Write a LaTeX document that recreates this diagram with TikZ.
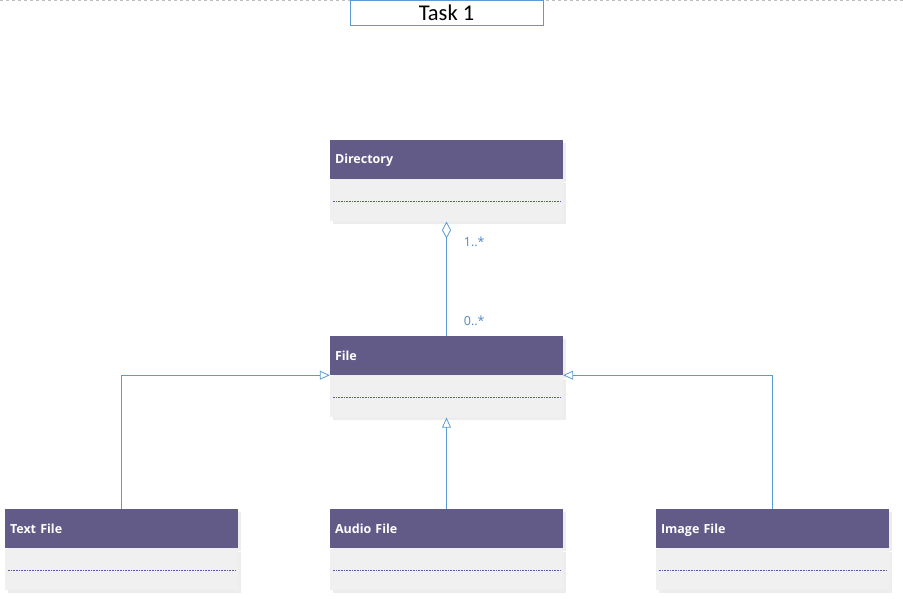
\documentclass[tikz,border=0pt]{standalone}
\usepackage{fontspec}
\setmainfont{Open Sans}
\newfontfamily\taskfont{Carlito}
\usepackage{tikz}
\usetikzlibrary{positioning, arrows.meta, shadows}
\definecolor{headpurple}{HTML}{625A87}
\definecolor{bodygray}{HTML}{F0F0F0}
\definecolor{linkblue}{HTML}{5B9BD5}
\definecolor{multblue}{HTML}{4F86C6}
\definecolor{dotpurple}{HTML}{5A5AA0}
\tikzset{
  x=1pt, y=-1pt, % one unit is one pixel of the picture, y runs down
  classhead/.style={fill=headpurple, text=white, font=\bfseries\fontsize{12.5}{14}\selectfont,
    text width=223pt, align=left, inner sep=5pt, text height=12pt, text depth=3pt, minimum height=39pt,
    drop shadow={shadow xshift=3pt, shadow yshift=-3pt, fill=black!7, opacity=1}}, % class name bar
  classbody/.style={fill=bodygray, minimum width=233pt, minimum height=41pt, inner sep=0pt,
    drop shadow={shadow xshift=3pt, shadow yshift=-3pt, fill=black!7, opacity=1}}, % empty compartments
  sep/.style={dotpurple, densely dotted, line width=0.6pt}, % line between compartments
  link/.style={linkblue, line width=0.8pt}, % connectors
  inherit/.style={link, -{Triangle[open, length=10pt, width=9pt]}},
  aggreg/.style={link, {Diamond[open, length=17pt, width=9pt]}-},
  mult/.style={text=multblue, font=\fontsize{12.5}{14}\selectfont, inner sep=0pt},
}
\begin{document}
\begin{tikzpicture}
  \useasboundingbox (0,0) rectangle (903,599);
  \draw[black!25, dashed, line width=0.6pt] (0,0.5) -- (903,0.5);
  \node[draw=linkblue, line width=0.8pt, minimum width=193pt, minimum height=25pt, inner sep=0pt,
        font=\taskfont\fontsize{22.5}{24}\selectfont] (task) at (446.5,12.5) {Task 1};

  % classes
  \node[classhead]                            (dirhead)  at (446.5,159.5) {Directory};
  \node[classbody, below=1pt of dirhead]      (dirbody)  {};
  \node[classhead]                            (filehead) at (446.5,355.5) {File};
  \node[classbody, below=1pt of filehead]     (filebody) {};
  \node[classhead]                            (txthead)  at (121.5,528.5) {Text File};
  \node[classbody, below=1pt of txthead]      (txtbody)  {};
  \node[classhead]                            (audhead)  at (446.5,528.5) {Audio File};
  \node[classbody, below=1pt of audhead]      (audbody)  {};
  \node[classhead]                            (imghead)  at (772.5,528.5) {Image File};
  \node[classbody, below=1pt of imghead]      (imgbody)  {};

  \draw[sep] ([xshift=3pt]dirbody.west)  -- ([xshift=-3pt]dirbody.east);
  \draw[sep] ([xshift=3pt]filebody.west) -- ([xshift=-3pt]filebody.east);
  \draw[sep] ([xshift=3pt]txtbody.west)  -- ([xshift=-3pt]txtbody.east);
  \draw[sep] ([xshift=3pt]audbody.west)  -- ([xshift=-3pt]audbody.east);
  \draw[sep] ([xshift=3pt]imgbody.west)  -- ([xshift=-3pt]imgbody.east);

  % connectors
  \draw[aggreg] (dirbody.south) -- (filehead.north)
    node[mult, pos=0.18, right=17pt] {1..*}
    node[mult, pos=0.87, right=17pt] {0..*};
  \draw[inherit] (txthead.north) |- (filehead.south west);
  \draw[inherit] (imghead.north) |- (filehead.south east);
  \draw[inherit] (audhead.north) -- (filebody.south);
\end{tikzpicture}
\end{document}
